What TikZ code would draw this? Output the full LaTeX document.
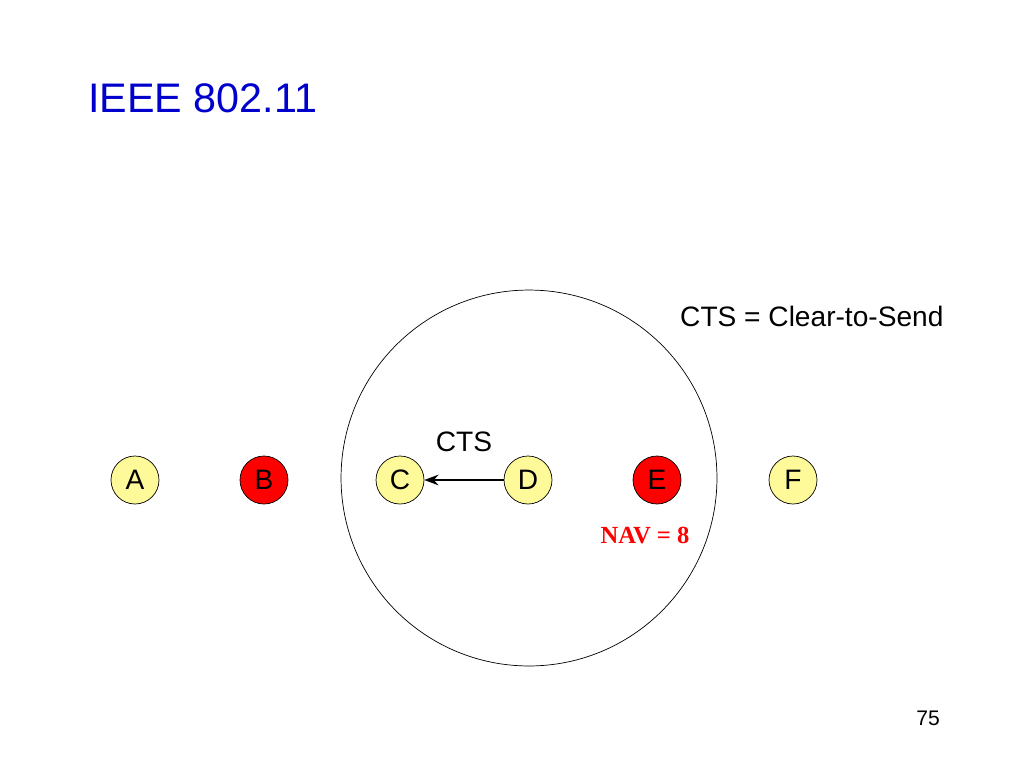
\documentclass[tikz,border=0pt]{standalone}
\usepackage{fontspec}
\setmainfont{Liberation Sans}
\newfontfamily\serifnav{Liberation Serif}
\usetikzlibrary{arrows.meta}
\begin{document}
\begin{tikzpicture}[x=0.02cm,y=-0.02cm,font=\fontsize{16}{18}\selectfont]
                \tikzstyle{station}=[circle,draw,minimum size=0.96cm,inner sep=0]
                \tikzstyle{idle}=[station,fill=yellow!40!white]
                \tikzstyle{busy}=[station,fill=red]
                \useasboundingbox (0,0) rectangle (1024,768);
                \node(title)[anchor=west,text=blue!80!black,font=\fontsize{23.5}{28}\selectfont] at (82,98) {IEEE 802.11};
                \node(range)[draw,circle,minimum size=7.52cm] at (529,478) {};
                \node(A)[idle] at (135,480) {A};
                \node(B)[busy] at (264,480) {B};
                \node(C)[idle] at (400,480) {C};
                \node(D)[idle] at (528,480) {D};
                \node(E)[busy] at (657,480) {E};
                \node(F)[idle] at (793,480) {F};
                \draw[-{Stealth[length=8pt]},line width=1.4pt](D)--(C) node[midway,above=12pt]{CTS};
                \node(nav)[text=red,font=\serifnav\bfseries\fontsize{14}{16}\selectfont] at (645,535) {NAV = 8};
                \node(legend)[anchor=west] at (674,316) {CTS = Clear-to-Send};
                \node(page)[font=\fontsize{12}{14}\selectfont] at (928,718) {75};
            \end{tikzpicture}
\end{document}
